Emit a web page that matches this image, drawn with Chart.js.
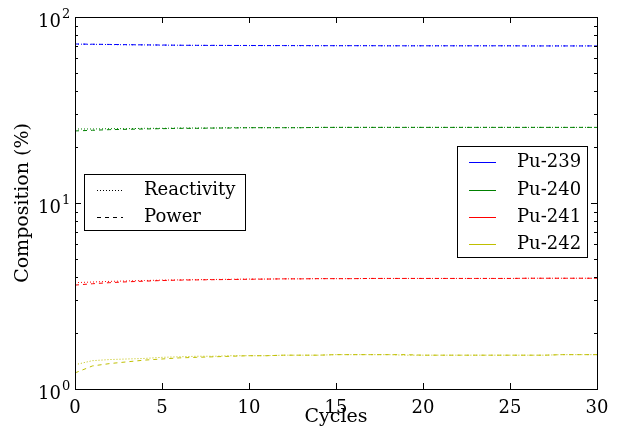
<!DOCTYPE html>
<html>
<head>
<meta charset="utf-8">
<script src="https://cdn.jsdelivr.net/npm/chart.js@4"></script>
<style>
  body { margin: 0; background: #fff; }
  #wrap { width: 619px; height: 428px; }
</style>
</head>
<body>
<div id="wrap"><canvas id="compChart" width="619" height="428"></canvas></div>
<script>
const cycles = [];
for (let i = 0; i <= 30; i++) cycles.push(i);

// Reactivity (dotted) and Power (dashed) compositions, %
const pu239R = [71.5, 71.3, 71.1, 70.9, 70.8, 70.6, 70.5, 70.4, 70.3, 70.3, 70.2, 70.2, 70.2, 70.1, 70.1, 70.1, 70.1, 70.1, 70.0, 70.0, 70.0, 70.0, 70.0, 70.0, 70.0, 70.0, 69.9, 69.9, 69.9, 69.9, 69.9];
const pu239P = [71.6, 71.4, 71.2, 71.0, 70.8, 70.7, 70.5, 70.4, 70.4, 70.3, 70.3, 70.2, 70.2, 70.2, 70.1, 70.1, 70.1, 70.1, 70.0, 70.0, 70.0, 70.0, 70.0, 70.0, 70.0, 70.0, 69.9, 69.9, 69.9, 69.9, 69.9];
const pu240R = [25.0, 25.0, 25.1, 25.1, 25.2, 25.2, 25.3, 25.3, 25.3, 25.4, 25.4, 25.4, 25.4, 25.4, 25.5, 25.5, 25.5, 25.5, 25.5, 25.5, 25.5, 25.5, 25.5, 25.5, 25.5, 25.5, 25.5, 25.5, 25.5, 25.5, 25.5];
const pu240P = [24.4, 24.6, 24.8, 24.9, 25.0, 25.1, 25.2, 25.2, 25.3, 25.3, 25.4, 25.4, 25.4, 25.4, 25.5, 25.5, 25.5, 25.5, 25.5, 25.5, 25.5, 25.5, 25.5, 25.5, 25.5, 25.5, 25.5, 25.5, 25.5, 25.5, 25.5];
const pu241R = [3.73, 3.76, 3.79, 3.81, 3.83, 3.85, 3.86, 3.87, 3.88, 3.89, 3.90, 3.90, 3.91, 3.91, 3.92, 3.92, 3.92, 3.93, 3.93, 3.93, 3.93, 3.93, 3.93, 3.93, 3.93, 3.93, 3.94, 3.94, 3.94, 3.94, 3.94];
const pu241P = [3.62, 3.68, 3.73, 3.77, 3.80, 3.83, 3.85, 3.86, 3.87, 3.88, 3.89, 3.90, 3.91, 3.91, 3.92, 3.92, 3.92, 3.93, 3.93, 3.93, 3.93, 3.93, 3.93, 3.93, 3.93, 3.93, 3.94, 3.94, 3.94, 3.94, 3.94];
const pu242R = [1.35, 1.42, 1.44, 1.45, 1.46, 1.48, 1.49, 1.50, 1.50, 1.51, 1.51, 1.51, 1.52, 1.52, 1.52, 1.53, 1.53, 1.53, 1.53, 1.52, 1.52, 1.52, 1.52, 1.52, 1.52, 1.52, 1.52, 1.52, 1.53, 1.53, 1.53];
const pu242P = [1.22, 1.33, 1.37, 1.40, 1.43, 1.45, 1.47, 1.48, 1.49, 1.50, 1.51, 1.51, 1.52, 1.52, 1.52, 1.53, 1.53, 1.53, 1.53, 1.53, 1.52, 1.52, 1.52, 1.52, 1.52, 1.52, 1.52, 1.52, 1.53, 1.53, 1.53];

const isotopes = ["Pu-239", "Pu-240", "Pu-241", "Pu-242"];
const colors = ["#0000ff", "#008000", "#ff0000", "#bfbf00"];
const yTicks = [1, 10, 100];
const yTickExp = ["0", "1", "2"];
const xTicks = [0, 5, 10, 15, 20, 25, 30];

const SERIF = "'DejaVu Serif', serif";

function pts(vals) {
  return cycles.map((c, i) => ({ x: c, y: vals[i] }));
}

const reactivity = [pu239R, pu240R, pu241R, pu242R];
const power = [pu239P, pu240P, pu241P, pu242P];
const datasets = [];
isotopes.forEach((name, k) => {
  datasets.push({ label: name + ' reactivity', data: pts(reactivity[k]), borderColor: colors[k], borderDash: [1, 2] });
  datasets.push({ label: name + ' power', data: pts(power[k]), borderColor: colors[k], borderDash: [4, 4] });
});
datasets.forEach(d => { d.borderWidth = 1; d.pointRadius = 0; d.fill = false; d.tension = 0; });

// frame, inward ticks, 10^n labels and the two boxed legends, matplotlib classic look
const framePlugin = {
  id: 'frame',
  afterDraw(chart) {
    const ctx = chart.ctx;
    const a = chart.chartArea;
    const xs = chart.scales.x, ys = chart.scales.y;
    ctx.save();
    ctx.strokeStyle = '#000';
    ctx.lineWidth = 1;
    ctx.setLineDash([]);
    ctx.strokeRect(Math.round(a.left) + 0.5, Math.round(a.top) + 0.5, Math.round(a.right - a.left), Math.round(a.bottom - a.top));
    ctx.beginPath();
    xTicks.forEach(v => {
      const px = Math.round(xs.getPixelForValue(v)) + 0.5;
      ctx.moveTo(px, a.bottom); ctx.lineTo(px, a.bottom - 6);
      ctx.moveTo(px, a.top); ctx.lineTo(px, a.top + 6);
    });
    for (let d = 0; d < 2; d++) {
      for (let k = 1; k <= 10; k++) {
        const v = k * Math.pow(10, d);
        const py = Math.round(ys.getPixelForValue(v)) + 0.5;
        const len = (k === 1 || k === 10) ? 6 : 3;
        ctx.moveTo(a.left, py); ctx.lineTo(a.left + len, py);
        ctx.moveTo(a.right, py); ctx.lineTo(a.right - len, py);
      }
    }
    ctx.stroke();

    // y tick labels with raised exponent
    ctx.fillStyle = '#000';
    ctx.textBaseline = 'alphabetic';
    yTicks.forEach((v, i) => {
      const py = ys.getPixelForValue(v);
      ctx.font = "18px " + SERIF;
      ctx.textAlign = 'right';
      ctx.fillText("10", 61, py + 10);
      ctx.font = "13px " + SERIF;
      ctx.textAlign = 'left';
      ctx.fillText(yTickExp[i], 62, py + 1);
    });
    ctx.textAlign = 'left';

    ctx.font = "18px " + SERIF;
    ctx.textBaseline = 'middle';

    // line-style legend
    ctx.fillStyle = '#fff';
    ctx.fillRect(84.5, 174.5, 161, 56);
    ctx.strokeRect(84.5, 174.5, 161, 56);
    const styles = [["Reactivity", [1, 2], 190], ["Power", [4, 4], 217]];
    styles.forEach(s => {
      ctx.setLineDash(s[1]);
      ctx.beginPath(); ctx.moveTo(97, s[2] + 0.5); ctx.lineTo(123, s[2] + 0.5); ctx.stroke();
      ctx.setLineDash([]);
      ctx.fillStyle = '#000';
      ctx.fillText(s[0], 144, s[2]);
    });

    // isotope legend
    ctx.fillStyle = '#fff';
    ctx.fillRect(457.5, 146.5, 130, 111);
    ctx.strokeRect(457.5, 146.5, 130, 111);
    const rows = [162, 190, 217, 244];
    isotopes.forEach((name, k) => {
      ctx.strokeStyle = colors[k];
      ctx.beginPath(); ctx.moveTo(469, rows[k] + 0.5); ctx.lineTo(496, rows[k] + 0.5); ctx.stroke();
      ctx.fillStyle = '#000';
      ctx.fillText(name, 517, rows[k]);
    });
    ctx.restore();
  }
};

const ctx = document.getElementById('compChart').getContext('2d');
let compChart = new Chart(ctx, {
  type: 'line',
  data: { datasets: datasets },
  options: {
    responsive: false,
    animation: false,
    layout: { padding: { top: 17, right: 22, left: 0, bottom: 0 } },
    plugins: { legend: { display: false }, tooltip: { enabled: false } },
    scales: {
      x: {
        type: 'linear', min: 0, max: 30,
        grid: { display: false },
        border: { display: false },
        afterBuildTicks: s => { s.ticks = xTicks.map(v => ({ value: v })); },
        ticks: { color: '#000', font: { family: SERIF, size: 18 }, padding: 1, maxRotation: 0 },
        title: { display: true, text: 'Cycles', color: '#000', font: { family: SERIF, size: 19 }, padding: { top: -6, bottom: 0 } },
        afterFit: s => { s.height = 39; }
      },
      y: {
        type: 'logarithmic', min: 1, max: 100,
        grid: { display: false },
        border: { display: false },
        afterBuildTicks: s => { s.ticks = yTicks.map(v => ({ value: v, major: true })); },
        ticks: { display: false },
        title: { display: true, text: 'Composition (%)', color: '#000', font: { family: SERIF, size: 19 }, padding: { top: 12, bottom: 0 } },
        afterFit: s => { s.width = 75; }
      }
    }
  },
  plugins: [framePlugin]
});
</script>
</body>
</html>
